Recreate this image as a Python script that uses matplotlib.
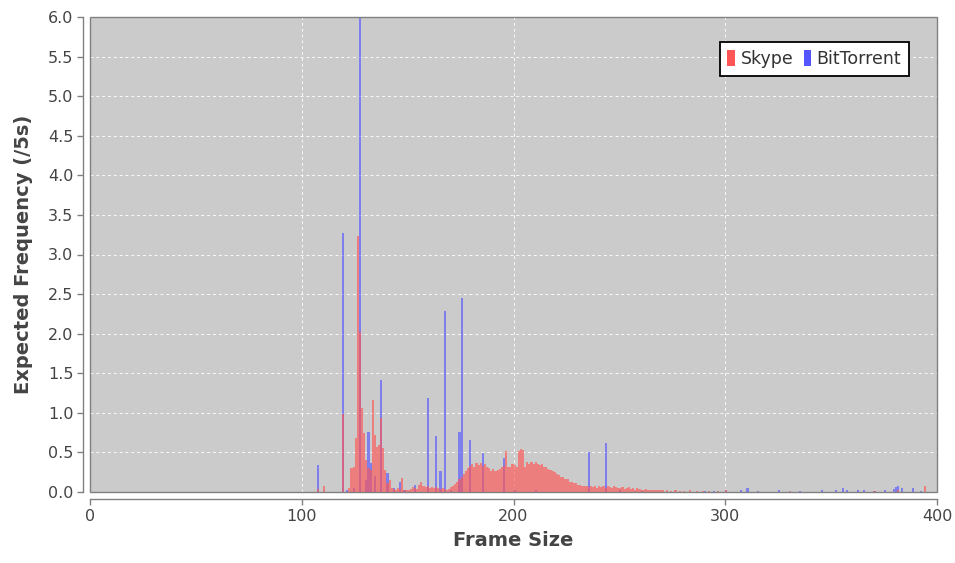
import matplotlib
matplotlib.use("Agg")
import matplotlib.pyplot as plt
from matplotlib.patches import Patch, Rectangle

# Frame size (bytes) and expected frequency per 5 s window
skype_sizes = [107, 110, 119, 122, 123, 124, 125, 126, 127, 128, 129, 130, 131, 132,
               133, 134, 135, 136, 137, 138, 139, 140, 141, 142, 143, 144, 145, 146,
               147, 148, 149, 150, 151, 152, 153, 154, 155, 156, 157, 158, 159, 160,
               161, 162, 163, 164, 165, 166, 167, 168, 169, 170, 171, 172, 173, 174,
               175, 176, 177, 178, 179, 180, 181, 182, 183, 184, 185, 186, 187, 188,
               189, 190, 191, 192, 193, 194, 195, 196, 197, 198, 199, 200, 201, 202,
               203, 204, 205, 206, 207, 208, 209, 210, 211, 212, 213, 214, 215, 216,
               217, 218, 219, 220, 221, 222, 223, 224, 225, 226, 227, 228, 229, 230,
               231, 232, 233, 234, 235, 236, 237, 238, 239, 240, 241, 242, 243, 244,
               245, 246, 247, 248, 249, 250, 251, 252, 253, 254, 255, 256, 257, 258,
               259, 260, 261, 262, 263, 264, 265, 266, 267, 268, 269, 270, 272, 274,
               276, 278, 280, 283, 286, 289, 292, 296, 300, 330, 370, 381, 394]
skype_freq = [0.04, 0.08, 0.98, 0.05, 0.30, 0.32, 0.68, 3.23, 2.02, 1.06, 0.74, 0.40, 0.30, 0.28,
              1.16, 0.72, 0.57, 0.60, 0.93, 0.55, 0.28, 0.12, 0.15, 0.05, 0.04, 0.03, 0.05, 0.04,
              0.18, 0.03, 0.02, 0.03, 0.04, 0.06, 0.05, 0.04, 0.09, 0.13, 0.08, 0.06, 0.07, 0.05,
              0.06, 0.05, 0.06, 0.05, 0.04, 0.05, 0.04, 0.03, 0.04, 0.06, 0.08, 0.10, 0.13, 0.16,
              0.19, 0.23, 0.27, 0.30, 0.33, 0.35, 0.32, 0.37, 0.34, 0.37, 0.33, 0.35, 0.31, 0.30,
              0.27, 0.29, 0.26, 0.28, 0.29, 0.31, 0.33, 0.52, 0.32, 0.31, 0.36, 0.34, 0.31, 0.52,
              0.54, 0.53, 0.32, 0.38, 0.36, 0.38, 0.35, 0.38, 0.36, 0.34, 0.35, 0.32, 0.31, 0.29,
              0.28, 0.26, 0.25, 0.23, 0.22, 0.19, 0.19, 0.16, 0.16, 0.13, 0.13, 0.11, 0.11, 0.09,
              0.09, 0.07, 0.07, 0.08, 0.06, 0.07, 0.06, 0.07, 0.05, 0.07, 0.06, 0.07, 0.05, 0.07,
              0.06, 0.05, 0.07, 0.06, 0.05, 0.05, 0.06, 0.04, 0.05, 0.06, 0.04, 0.05, 0.03, 0.05,
              0.04, 0.03, 0.03, 0.04, 0.02, 0.03, 0.03, 0.02, 0.03, 0.02, 0.02, 0.02, 0.02, 0.01,
              0.02, 0.01, 0.01, 0.02, 0.01, 0.01, 0.01, 0.01, 0.02, 0.01, 0.01, 0.02, 0.07]

bittorrent_sizes = [107, 119, 121, 124, 127, 130, 131, 132, 134, 137, 140, 143, 146, 148,
                    153, 159, 163, 165, 167, 170, 174, 175, 179, 185, 195, 200, 210, 235,
                    243, 250, 260, 290, 294, 300, 307, 310, 315, 325, 335, 345, 352, 355,
                    357, 362, 365, 370, 375, 379, 380, 381, 383, 388, 392]
bittorrent_freq = [0.34, 3.27, 0.02, 0.05, 6.20, 0.15, 0.76, 0.37, 0.20, 1.41, 0.24, 0.05, 0.13, 0.03,
                   0.09, 1.19, 0.71, 0.27, 2.29, 0.03, 0.76, 2.45, 0.66, 0.49, 0.43, 0.03, 0.03, 0.51,
                   0.62, 0.02, 0.01, 0.01, 0.01, 0.02, 0.02, 0.05, 0.01, 0.02, 0.01, 0.02, 0.03, 0.05,
                   0.02, 0.02, 0.02, 0.01, 0.02, 0.04, 0.06, 0.07, 0.05, 0.05, 0.01]

series_labels = ["Skype", "BitTorrent"]
x_ticks = [0, 100, 200, 300, 400]
y_ticks = [0.0, 0.5, 1.0, 1.5, 2.0, 2.5, 3.0, 3.5, 4.0, 4.5, 5.0, 5.5, 6.0]

RED = "#FF5555"
BLUE = "#5555FF"
AXIS_GREY = "#808080"
TEXT_GREY = "#444444"

plt.rcParams["font.family"] = ["DejaVu Sans"]

fig = plt.figure(figsize=(9.55, 5.63), dpi=100, facecolor="white")
ax = fig.add_axes([90 / 955, 71 / 563, 847 / 955, 475 / 563])
ax.set_facecolor("#CBCBCB")

ax.bar(bittorrent_sizes, bittorrent_freq, width=1.0, align="edge",
       color=BLUE, alpha=0.65, linewidth=0, zorder=2)
ax.bar(skype_sizes, skype_freq, width=1.0, align="edge",
       color=RED, alpha=0.65, linewidth=0, zorder=3)

ax.set_xlim(0, 400)
ax.set_ylim(0, 6.0)
ax.set_xticks(x_ticks)
ax.set_yticks(y_ticks)
ax.set_yticklabels([f"{v:.1f}" for v in y_ticks])

ax.grid(True, color="white", linestyle=(0, (3, 3)), linewidth=0.7, alpha=0.9, zorder=1)
ax.set_axisbelow(True)

# plot outline
for side in ("top", "right"):
    ax.spines[side].set_visible(False)
ax.add_patch(Rectangle((0, 0), 1, 1, transform=ax.transAxes, fill=False,
                       edgecolor=AXIS_GREY, linewidth=1.0, zorder=5, clip_on=False))
# axis lines sit slightly away from the plot area
for side in ("left", "bottom"):
    ax.spines[side].set_position(("outward", 5))
    ax.spines[side].set_color(AXIS_GREY)
    ax.spines[side].set_linewidth(1.0)

ax.tick_params(axis="both", direction="out", length=4, width=1, color=AXIS_GREY,
               labelcolor=TEXT_GREY, labelsize=11.5, pad=3)

ax.set_xlabel("Frame Size", fontsize=14, fontweight="bold", color=TEXT_GREY, labelpad=5)
ax.set_ylabel("Expected Frequency (/5s)", fontsize=14, fontweight="bold",
              color=TEXT_GREY, labelpad=11)

handles = [Patch(facecolor=RED, edgecolor="none"), Patch(facecolor=BLUE, edgecolor="none")]
leg = ax.legend(handles, series_labels, loc="upper right", bbox_to_anchor=(0.967, 0.947),
                ncol=2, frameon=True, fancybox=False, fontsize=12.5, framealpha=1.0,
                handlelength=0.45, handleheight=1.0, handletextpad=0.3,
                columnspacing=0.6, borderpad=0.45, borderaxespad=0.0)
leg.get_frame().set_edgecolor("black")
leg.get_frame().set_facecolor("white")
leg.get_frame().set_linewidth(1.3)
for t in leg.get_texts():
    t.set_color("#333333")

fig.savefig("out.png", dpi=100, facecolor="white")
